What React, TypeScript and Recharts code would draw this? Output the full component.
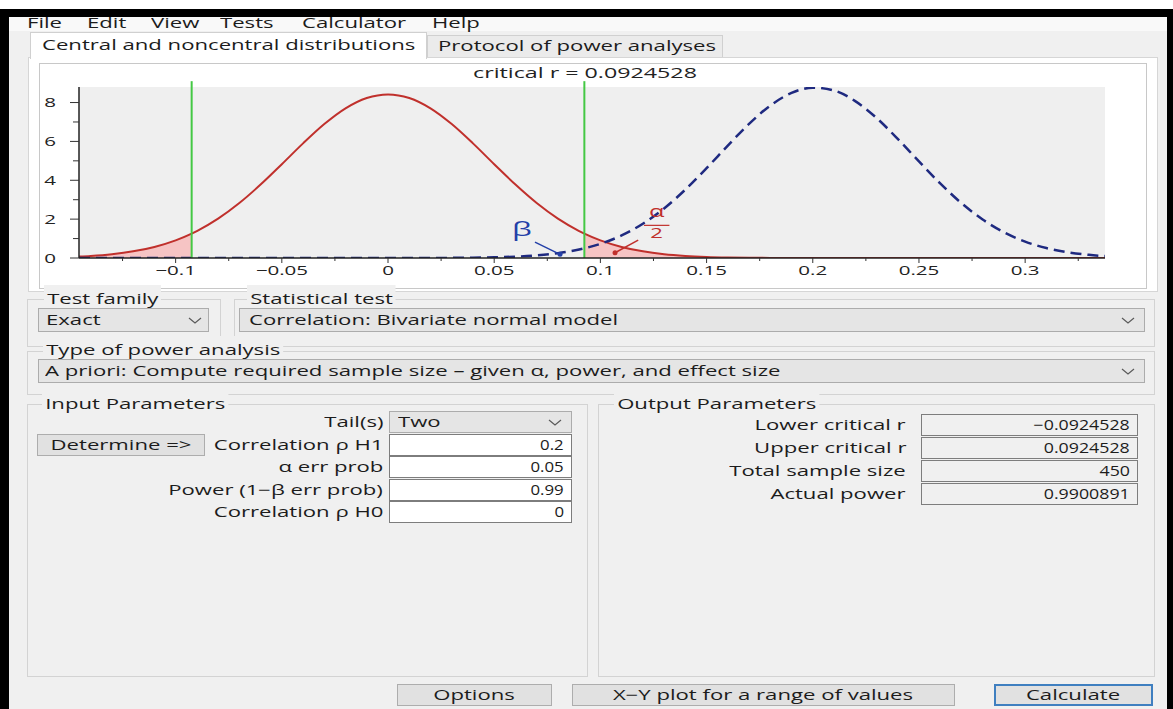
import React from 'react';
import {
  ComposedChart,
  Line,
  Area,
  XAxis,
  YAxis,
  ReferenceLine,
  ReferenceDot,
  CartesianGrid,
} from 'recharts';

const W = 1173;
const H = 709;
const S = 1.58;
const UI = '"Open Sans", "DejaVu Sans", sans-serif';

// ---------- chart data ----------
const criticalR = 0.0924528;
const xValues = [
  -0.1455, -0.14, -0.13, -0.12, -0.11, -0.1, -0.0924528, -0.09, -0.08, -0.07, -0.06, -0.05, -0.04, -0.03,
  -0.02, -0.01, 0, 0.01, 0.02, 0.03, 0.04, 0.05, 0.06, 0.07, 0.08, 0.09, 0.0924528, 0.1, 0.11, 0.12, 0.13,
  0.14, 0.15, 0.16, 0.17, 0.18, 0.19, 0.2, 0.21, 0.22, 0.23, 0.24, 0.25, 0.26, 0.27, 0.28, 0.29, 0.3, 0.31,
  0.32, 0.33, 0.3376,
];
const nullDensity = [
  0.076, 0.108, 0.196, 0.342, 0.57, 0.909, 1.256, 1.388, 2.027, 2.83, 3.779, 4.827, 5.898, 6.892, 7.703,
  8.235, 8.42, 8.235, 7.703, 6.892, 5.898, 4.827, 3.779, 2.83, 2.027, 1.388, 1.256, 0.909, 0.57, 0.342,
  0.196, 0.108, 0.056, 0.028, 0.014, 0.006, 0.003, 0.001, 0, 0, 0, 0, 0, 0, 0, 0, 0, 0, 0, 0, 0, 0,
];
const altDensity = [
  0, 0, 0, 0, 0, 0, 0, 0, 0, 0, 0, 0, 0, 0, 0, 0, 0, 0.001, 0.003, 0.007, 0.016, 0.034, 0.07, 0.135, 0.248,
  0.436, 0.496, 0.729, 1.161, 1.764, 2.551, 3.518, 4.622, 5.787, 6.901, 7.844, 8.494, 8.765, 8.618, 8.075,
  7.208, 6.131, 4.969, 3.838, 2.824, 1.98, 1.323, 0.842, 0.511, 0.295, 0.163, 0.097,
];
const xMajorTicks = [-0.1, -0.05, 0, 0.05, 0.1, 0.15, 0.2, 0.25, 0.3];
const xTickLabels = ['\u22120.1', '\u22120.05', '0', '0.05', '0.1', '0.15', '0.2', '0.25', '0.3'];
const xMinorTicks = [-0.125, -0.075, -0.025, 0.025, 0.075, 0.125, 0.175, 0.225, 0.275, 0.325];
const yMajorTicks = [0, 2, 4, 6, 8];
const yMinorTicks = [1, 3, 5, 7];
const xDomain = [-0.1455, 0.3376];
const yDomain = [0, 8.8];

// ---------- form texts ----------
const menuItems = ['File', 'Edit', 'View', 'Tests', 'Calculator', 'Help'];
const menuX = [27, 87, 151, 220, 302, 432];
const inputLabels = ['Tail(s)', 'Correlation \u03c1 H1', '\u03b1 err prob', 'Power (1\u2212\u03b2 err prob)', 'Correlation \u03c1 H0'];
const inputValues = ['Two', '0.2', '0.05', '0.99', '0'];
const outputLabels = ['Lower critical r', 'Upper critical r', 'Total sample size', 'Actual power'];
const outputValues = ['\u22120.0924528', '0.0924528', '450', '0.9900891'];

const rows = xValues.map((x, i) => ({
  x,
  nul: nullDensity[i],
  alt: altDensity[i],
  tailL: x <= -criticalR + 1e-9 ? nullDensity[i] : null,
  tailR: x >= criticalR - 1e-9 ? nullDensity[i] : null,
}));

type TxtProps = {
  x: number;
  y: number;
  text: string;
  size?: number;
  anchor?: 'start' | 'middle' | 'end';
  color?: string;
  sx?: number;
  bg?: string;
};

function Txt({ x, y, text, size = 14, anchor = 'start', color = '#1c1c1c', sx = S, bg }: TxtProps) {
  const base: React.CSSProperties = {
    position: 'absolute',
    top: y - size,
    height: size * 2,
    lineHeight: `${size * 2}px`,
    whiteSpace: 'nowrap',
    fontSize: size,
    fontFamily: UI,
    color,
    background: bg,
    padding: bg ? '0 2px' : undefined,
  };
  if (anchor === 'start') {
    return <div style={{ ...base, left: x, transformOrigin: 'left center', transform: `scaleX(${sx})` }}>{text}</div>;
  }
  if (anchor === 'end') {
    return <div style={{ ...base, right: W - x, transformOrigin: 'right center', transform: `scaleX(${sx})` }}>{text}</div>;
  }
  return (
    <div style={{ ...base, left: x, transformOrigin: 'center center', transform: `translateX(-50%) scaleX(${sx})` }}>
      {text}
    </div>
  );
}

function Box({ x, y, w, h, bg = 'transparent', border = '#adadad', bw = 1 }: any) {
  return (
    <div
      style={{
        position: 'absolute',
        left: x,
        top: y,
        width: w,
        height: h,
        boxSizing: 'border-box',
        border: bw ? `${bw}px solid ${border}` : 'none',
        background: bg,
      }}
    />
  );
}

function Chev({ x, y }: { x: number; y: number }) {
  return (
    <svg style={{ position: 'absolute', left: x, top: y }} width={14} height={8}>
      <polyline points="1,1 7,6 13,1" fill="none" stroke="#5a5a5a" strokeWidth={1.2} />
    </svg>
  );
}

function XTick(props: any) {
  const { x, y, payload } = props;
  const v = payload.value;
  const i = xMajorTicks.findIndex((t) => Math.abs(t - v) < 1e-9);
  if (i < 0) {
    return <line x1={x} x2={x} y1={y} y2={y + 3} stroke="#333" strokeWidth={1} />;
  }
  return (
    <g>
      <line x1={x} x2={x} y1={y} y2={y + 5} stroke="#333" strokeWidth={1} />
      <text
        transform={`translate(${x},${y + 17}) scale(${S},1)`}
        textAnchor="middle"
        fontSize={13}
        fontFamily={UI}
        fill="#222"
      >
        {xTickLabels[i]}
      </text>
    </g>
  );
}

function YTick(props: any) {
  const { x, y, payload } = props;
  const v = payload.value;
  const major = yMajorTicks.includes(v);
  return (
    <g>
      <line x1={x - (major ? 9 : 6)} x2={x} y1={y} y2={y} stroke="#333" strokeWidth={1} />
      {major && (
        <text
          transform={`translate(${x - 23},${y + 4.5}) scale(${S},1)`}
          textAnchor="end"
          fontSize={13}
          fontFamily={UI}
          fill="#222"
        >
          {String(v)}
        </text>
      )}
    </g>
  );
}

const betaShape = (p: any) => (
  <text
    transform={`translate(${p.cx},${p.cy + 7}) scale(${S},1)`}
    textAnchor="middle"
    fontSize={20}
    fontFamily={UI}
    fill="#2440a8"
  >
    {'\u03b2'}
  </text>
);

const alphaHalfShape = (p: any) => (
  <text transform={`translate(${p.cx},${p.cy}) scale(${S},1)`} textAnchor="middle" fontFamily={UI} fill="#c0302c">
    <tspan x={0} y={-8} fontSize={16}>
      {'\u03b1'}
    </tspan>
    <tspan x={0} y={13} fontSize={14}>
      2
    </tspan>
  </text>
);

function Chart() {
  const xTicks = [...xMajorTicks, ...xMinorTicks].sort((a, b) => a - b);
  const yTicks = [...yMajorTicks, ...yMinorTicks].sort((a, b) => a - b);
  const red = '#c0302c';
  const blue = '#1f2a80';
  const green = '#44c844';
  return (
    <ComposedChart width={1107} height={224} data={rows} margin={{ top: 23, right: 42, bottom: 0, left: 0 }}>
      <CartesianGrid horizontal={false} vertical={false} fill="#efefef" stroke="none" />
      <XAxis
        dataKey="x"
        type="number"
        domain={xDomain}
        allowDataOverflow
        ticks={xTicks}
        interval={0}
        tick={XTick}
        tickLine={false}
        tickSize={0}
        tickMargin={0}
        height={30}
        axisLine={{ stroke: '#222', strokeWidth: 1.5 }}
      />
      <YAxis
        type="number"
        domain={yDomain}
        allowDataOverflow
        ticks={yTicks}
        interval={0}
        tick={YTick}
        tickLine={false}
        tickSize={0}
        tickMargin={0}
        width={39}
        axisLine={{ stroke: '#222', strokeWidth: 1.5 }}
      />
      <Area dataKey="tailL" type="monotone" stroke="none" fill="#f6c4c4" fillOpacity={1} isAnimationActive={false} />
      <Area dataKey="tailR" type="monotone" stroke="none" fill="#f6c4c4" fillOpacity={1} isAnimationActive={false} />
      <Line dataKey="nul" type="monotone" stroke={red} strokeWidth={2} dot={false} isAnimationActive={false} />
      <Line
        dataKey="alt"
        type="monotone"
        stroke={blue}
        strokeWidth={2.5}
        strokeDasharray="11 6"
        dot={false}
        isAnimationActive={false}
      />
      <ReferenceLine
        segment={[
          { x: -criticalR, y: 0 },
          { x: -criticalR, y: 9.1 },
        ]}
        stroke={green}
        strokeWidth={2}
        ifOverflow="visible"
      />
      <ReferenceLine
        segment={[
          { x: criticalR, y: 0 },
          { x: criticalR, y: 9.1 },
        ]}
        stroke={green}
        strokeWidth={2}
        ifOverflow="visible"
      />
      {/* beta annotation */}
      <ReferenceLine
        segment={[
          { x: 0.0692, y: 0.82 },
          { x: 0.081, y: 0.19 },
        ]}
        stroke="#2440a8"
        strokeWidth={1.5}
      />
      <ReferenceDot x={0.081} y={0.19} r={2.5} fill="#2440a8" stroke="none" />
      <ReferenceDot x={0.063} y={1.5} r={0} shape={betaShape} />
      {/* alpha / 2 annotation */}
      <ReferenceLine
        segment={[
          { x: 0.1178, y: 0.92 },
          { x: 0.1069, y: 0.27 },
        ]}
        stroke={red}
        strokeWidth={1.5}
      />
      <ReferenceDot x={0.1069} y={0.27} r={2.5} fill={red} stroke="none" />
      <ReferenceLine
        segment={[
          { x: 0.1205, y: 1.68 },
          { x: 0.1325, y: 1.68 },
        ]}
        stroke={red}
        strokeWidth={1.2}
      />
      <ReferenceDot x={0.1265} y={1.68} r={0} shape={alphaHalfShape} />
    </ComposedChart>
  );
}

export default function App() {
  const inRows = [422, 445, 467, 490, 512];
  const outRows = [425, 448, 471, 494];
  return (
    <div
      style={{
        position: 'absolute',
        left: 0,
        top: 0,
        width: W,
        height: H,
        background: '#f0f0f0',
        overflow: 'hidden',
        fontFamily: UI,
      }}
    >
      <Box x={0} y={0} w={W} h={9} bg="#ffffff" bw={0} />
      <Box x={0} y={17} w={W} h={14} bg="#f9f9f9" bw={0} />
      {menuItems.map((m, i) => (
        <Txt key={m} x={menuX[i]} y={23} text={m} size={14} />
      ))}

      {/* tabs */}
      <Box x={427} y={35} w={296} h={23} bg="#ebebeb" border="#d0d0d0" />
      <Box x={28} y={57} w={1130} h={235} bg="#ffffff" border="#d6d6d6" />
      <Box x={30} y={32} w={397} h={27} bg="#ffffff" border="#d0d0d0" />
      <Box x={31} y={56} w={395} h={4} bg="#ffffff" bw={0} />
      <Txt x={42} y={45} text="Central and noncentral distributions" size={14} />
      <Txt x={438} y={46} text="Protocol of power analyses" size={14} />

      {/* chart panel */}
      <Box x={39} y={63} w={1108} h={226} bg="#ffffff" border="#c8c8c8" />
      <Txt x={585} y={73} text="critical r = 0.0924528" size={14} anchor="middle" color="#222" sx={1.66} />
      <div style={{ position: 'absolute', left: 40, top: 64 }}>
        <Chart />
      </div>

      {/* test family */}
      <Box x={27} y={299} w={194} h={48} border="#d3d3d3" />
      <Txt x={44} y={299} text="Test family" size={14} bg="#f0f0f0" />
      <Box x={38} y={308} w={171} h={24} bg="#e5e5e5" border="#acacac" />
      <Txt x={46} y={320} text="Exact" size={14} />
      <Chev x={188} y={317} />

      {/* statistical test */}
      <Box x={234} y={299} w={921} h={48} border="#d3d3d3" />
      <Txt x={247} y={299} text="Statistical test" size={14} bg="#f0f0f0" />
      <Box x={239} y={308} w={906} h={24} bg="#e5e5e5" border="#acacac" />
      <Txt x={249} y={320} text="Correlation: Bivariate normal model" size={14} />
      <Chev x={1121} y={317} />

      {/* type of power analysis */}
      <Box x={27} y={351} w={1128} h={44} border="#d3d3d3" />
      <Txt x={43} y={350} text="Type of power analysis" size={14} bg="#f0f0f0" />
      <Box x={38} y={359} w={1107} h={24} bg="#e5e5e5" border="#acacac" />
      <Txt
        x={45}
        y={371}
        text={'A priori: Compute required sample size \u2013 given \u03b1, power, and effect size'}
        size={14}
      />
      <Chev x={1121} y={368} />

      {/* input parameters */}
      <Box x={27} y={404} w={561} h={273} border="#d3d3d3" />
      <Txt x={42} y={404} text="Input Parameters" size={14} bg="#f0f0f0" />
      {inputLabels.map((l, i) => (
        <Txt key={l} x={383} y={inRows[i]} text={l} size={14} anchor="end" />
      ))}
      <Box x={389} y={411} w={183} h={22} bg="#e5e5e5" border="#acacac" />
      <Txt x={398} y={422} text={inputValues[0]} size={14} />
      <Chev x={548} y={419} />
      {inRows.slice(1).map((r, i) => (
        <React.Fragment key={r}>
          <Box x={389} y={r - 11} w={183} h={22} bg="#ffffff" border="#7d7d7d" />
          <Txt x={564} y={r} text={inputValues[i + 1]} size={14} anchor="end" sx={1.2} />
        </React.Fragment>
      ))}
      <Box x={37} y={434} w={168} h={22} bg="#e1e1e1" border="#adadad" />
      <Txt x={121} y={445} text="Determine =>" size={14} anchor="middle" />

      {/* output parameters */}
      <Box x={598} y={404} w={557} h={273} border="#d3d3d3" />
      <Txt x={614} y={404} text="Output Parameters" size={14} bg="#f0f0f0" />
      {outputLabels.map((l, i) => (
        <React.Fragment key={l}>
          <Txt x={906} y={outRows[i]} text={l} size={14} anchor="end" />
          <Box x={921} y={outRows[i] - 11} w={217} h={22} bg="#f0f0f0" border="#7d7d7d" />
          <Txt x={1130} y={outRows[i]} text={outputValues[i]} size={14} anchor="end" sx={1.27} />
        </React.Fragment>
      ))}

      {/* buttons */}
      <Box x={397} y={684} w={155} h={22} bg="#e1e1e1" border="#adadad" />
      <Txt x={474} y={695} text="Options" size={14} anchor="middle" />
      <Box x={572} y={684} w={383} h={22} bg="#e1e1e1" border="#adadad" />
      <Txt x={763} y={695} text={'X\u2212Y plot for a range of values'} size={14} anchor="middle" />
      <Box x={994} y={684} w={159} h={22} bg="#e1e1e1" border="#3f7fc0" bw={2} />
      <Txt x={1073} y={695} text="Calculate" size={14} anchor="middle" />

      {/* black frame */}
      <Box x={0} y={9} w={W} h={8} bg="#000000" bw={0} />
      <Box x={0} y={9} w={9} h={H} bg="#000000" bw={0} />
      <Box x={1167} y={9} w={6} h={H} bg="#000000" bw={0} />
    </div>
  );
}
